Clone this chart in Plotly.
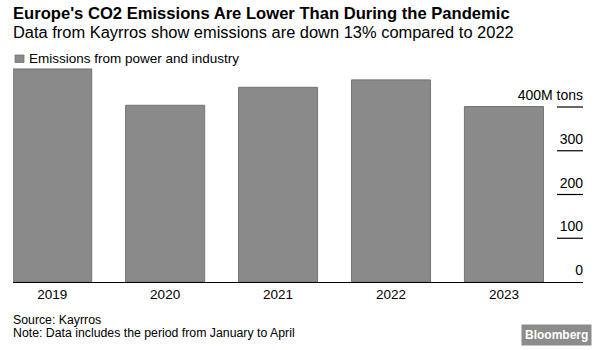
import plotly.graph_objects as go

years = ["2019", "2020", "2021", "2022", "2023"]
emissions = [487, 404, 445, 462, 401]
y_tickvals = [0, 100, 200, 300, 400]
y_ticktext = ["0", "100", "200", "300", "400M tons"]

title = "Europe's CO2 Emissions Are Lower Than During the Pandemic"
subtitle = "Data from Kayrros show emissions are down 13% compared to 2022"
series_name = "Emissions from power and industry"
source = "Source: Kayrros"
note = "Note: Data includes the period from January to April"

W, H = 600, 350
ML, MR, MT, MB = 13, 17, 65, 68
PW, PH = W - ML - MR, H - MT - MB
FONT = "Liberation Sans, Arial, sans-serif"
BAR = "#8a8a8a"


def px(x):
    return (x - ML) / PW


def py(y):
    return (H - MB - y) / PH


fig = go.Figure()
fig.add_trace(go.Bar(
    x=years, y=emissions, name=series_name,
    marker=dict(color=BAR, line=dict(color="#747474", width=1)),
    showlegend=False,
))

shapes = []
for v in y_tickvals[1:]:
    shapes.append(dict(type="line", xref="paper", yref="y",
                       x0=px(557), x1=1, y0=v, y1=v,
                       line=dict(color="black", width=1.2)))
# legend key
shapes.append(dict(type="rect", xref="paper", yref="paper",
                   x0=px(15), x1=px(24), y0=py(62.5), y1=py(55),
                   fillcolor=BAR, line=dict(color="#747474", width=0.8)))

annotations = [
    dict(text="<b>" + title + "</b>", x=px(11), y=py(13.5), xref="paper", yref="paper",
         xanchor="left", yanchor="middle", showarrow=False,
         font=dict(family=FONT, size=16.6, color="black")),
    dict(text=subtitle, x=px(11), y=py(32), xref="paper", yref="paper",
         xanchor="left", yanchor="middle", showarrow=False,
         font=dict(family=FONT, size=16.45, color="black")),
    dict(text=series_name, x=px(27), y=py(58.5), xref="paper", yref="paper",
         xanchor="left", yanchor="middle", showarrow=False,
         font=dict(family=FONT, size=13.5, color="black")),
    dict(text=source, x=px(12), y=py(319.5), xref="paper", yref="paper",
         xanchor="left", yanchor="middle", showarrow=False, borderpad=0,
         font=dict(family=FONT, size=12.3, color="black")),
    dict(text=note, x=px(12), y=py(332.5), xref="paper", yref="paper",
         xanchor="left", yanchor="middle", showarrow=False, borderpad=0,
         font=dict(family=FONT, size=12.3, color="black")),
    dict(text="<b>Bloomberg</b>", x=px(556), y=py(334.5), xref="paper", yref="paper",
         xanchor="center", yanchor="middle", showarrow=False,
         bgcolor="#8c8c8c", borderpad=3,
         font=dict(family=FONT, size=12, color="white")),
]

fig.update_layout(
    width=W, height=H,
    margin=dict(l=ML, r=MR, t=MT, b=MB),
    paper_bgcolor="white", plot_bgcolor="white",
    bargap=0.3,
    showlegend=False,
    font=dict(family=FONT, size=13, color="black"),
    xaxis=dict(range=[-0.347, 4.70], showgrid=False, zeroline=False,
               showline=True, linecolor="black", linewidth=1.2,
               ticks="", tickfont=dict(size=13.5, color="black")),
    yaxis=dict(range=[0, 496], side="right", ticklabelposition="inside top",
               tickvals=y_tickvals, ticktext=y_ticktext,
               ticklabelshift=-2, ticklabelstandoff=-3,
               showgrid=False, zeroline=False, showline=False, ticks="",
               tickfont=dict(size=14, color="black")),
    shapes=shapes,
    annotations=annotations,
)

fig.write_html("out.html")
